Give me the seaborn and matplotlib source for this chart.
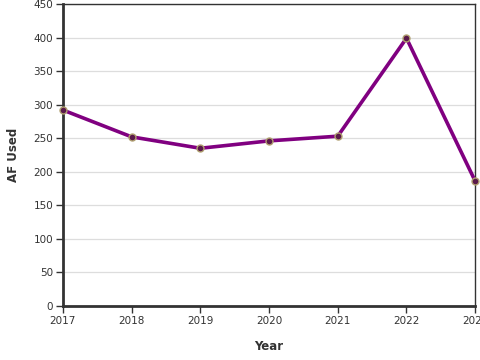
import pandas as pd
import seaborn as sns
import matplotlib.pyplot as plt

# AF used per year
years = [2017, 2018, 2019, 2020, 2021, 2022, 2023]
af_used = [292, 252, 235, 246, 253, 399, 186]

df = pd.DataFrame({'Year': years, 'AF Used': af_used})

sns.set_style("white")
fig = plt.figure(figsize=(4.8, 3.6), dpi=100)
ax = fig.add_axes([0.131, 0.15, 0.859, 0.839])

sns.lineplot(data=df, x='Year', y='AF Used', ax=ax, color='#800080',
             linewidth=2.6, marker='o', markersize=5,
             markerfacecolor='#5a1a4a', markeredgecolor='#b0a070',
             markeredgewidth=1.0, clip_on=False, zorder=3)

ax.set_xlim(2017, 2023)
ax.set_ylim(0, 450)
ax.set_xticks(years)
ax.set_yticks(range(0, 451, 50))
ax.yaxis.grid(True, color='#dddddd', linewidth=0.9)
ax.set_axisbelow(True)

for side in ['left', 'bottom']:
    ax.spines[side].set_linewidth(2)
    ax.spines[side].set_color('#333333')
for side in ['top', 'right']:
    ax.spines[side].set_linewidth(1)
    ax.spines[side].set_color('#333333')

ax.tick_params(axis='both', labelsize=7.5, colors='#333333', length=5,
               width=1, left=True, bottom=True, pad=2)
ax.set_xlabel('Year', fontsize=8.5, fontweight='bold', color='#333333', labelpad=10)
ax.set_ylabel('AF Used', fontsize=8.5, fontweight='bold', color='#333333', labelpad=10)

fig.savefig('out.png', dpi=100)
